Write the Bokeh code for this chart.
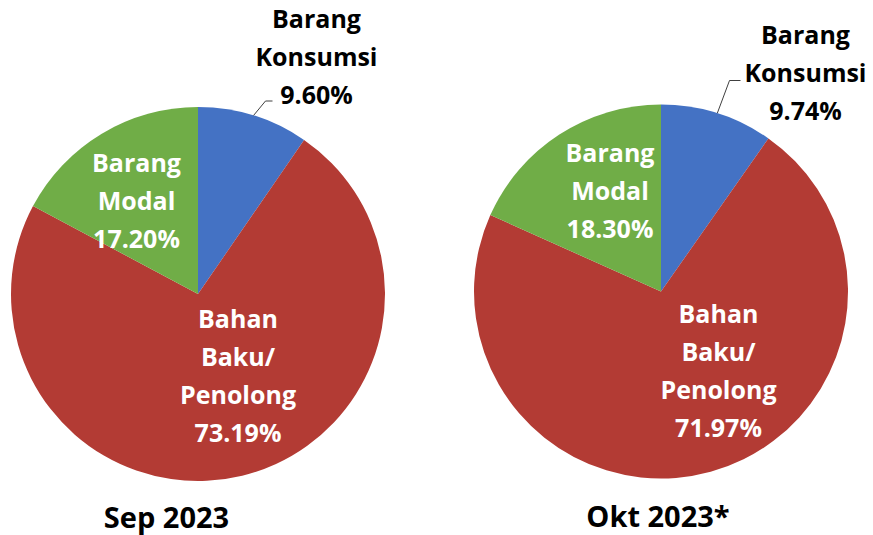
import math
from bokeh.plotting import figure
from bokeh.models import Range1d, ColumnDataSource
from bokeh.core.properties import value
from bokeh.embed import file_html
from bokeh.resources import INLINE

# ---- data ----
categories = ["Barang Konsumsi", "Bahan Baku/Penolong", "Barang Modal"]
category_lines = [["Barang", "Konsumsi"], ["Bahan", "Baku/", "Penolong"], ["Barang", "Modal"]]
periods = ["Sep 2023", "Okt 2023*"]
sep_values = [9.60, 73.19, 17.20]
okt_values = [9.74, 71.97, 18.30]
series = [sep_values, okt_values]

# ---- style / layout ----
W, H = 873, 535
colors = ["#4472C4", "#B33B34", "#70AD47"]
text_colors = ["#000000", "#FFFFFF", "#FFFFFF"]
FONT = "Open Sans"
R = 187
centers = [(197.5, 241.5), (660.5, 244.0)]
# label block offsets from pie centre (px, y up)
label_offsets = [
    [(118.5, 238.5), (40.0, -80.5), (-61.5, 94.0)],
    [(144.5, 219.5), (57.5, -78.5), (-51.0, 102.0)],
]
# leader elbow / end relative to the outside label block centre
leader_rel = [((-51, -45.5), (-44, -45.5)), ((-76, -8.5), (-65, -8.5))]
title_pos = [(166, 19), (657.5, 20)]
LINE_SP = 38

p = figure(width=W, height=H, x_range=Range1d(0, W), y_range=Range1d(0, H),
           output_backend="svg", toolbar_location=None, min_border=0,
           x_axis_type=None, y_axis_type=None)
p.grid.visible = False
p.outline_line_color = None
p.background_fill_color = "white"

for k, vals in enumerate(series):
    cx, cy = centers[k]
    total = sum(vals)
    starts, ends, mids = [], [], []
    cum = 0.0
    for v in vals:
        a0 = math.pi / 2 - 2 * math.pi * cum / total
        cum += v
        a1 = math.pi / 2 - 2 * math.pi * cum / total
        starts.append(a0)
        ends.append(a1)
        mids.append((a0 + a1) / 2)
    src = ColumnDataSource(dict(x=[cx] * 3, y=[cy] * 3, s=starts, e=ends, c=colors))
    p.wedge(x="x", y="y", radius=R, start_angle="s", end_angle="e", direction="clock",
            fill_color="c", line_color=None, source=src)

    # labels
    for i, v in enumerate(vals):
        dx, dy = label_offsets[k][i]
        bx, by = cx + dx, cy + dy
        lines = category_lines[i] + [f"{v:.2f}%"]
        n = len(lines)
        xs = [bx] * n
        ys = [by + ((n - 1) / 2 - j) * LINE_SP for j in range(n)]
        p.text(x=xs, y=ys, text=lines, text_align="center", text_baseline="middle",
               text_font=value(FONT), text_font_style="bold", text_font_size="25px",
               text_color=text_colors[i])
        if i == 0:
            m = mids[0]
            sx, sy = cx + R * math.cos(m), cy + R * math.sin(m)
            (ex1, ey1), (ex2, ey2) = leader_rel[k]
            p.line(x=[sx, bx + ex1, bx + ex2], y=[sy, by + ey1, by + ey2],
                   line_color="#404040", line_width=1)

    tx, ty = title_pos[k]
    p.text(x=[tx], y=[ty], text=[periods[k]], text_align="center", text_baseline="middle",
           text_font=value(FONT), text_font_style="bold", text_font_size="29px",
           text_color="#000000")

open("out.html", "w").write(file_html(p, INLINE))
